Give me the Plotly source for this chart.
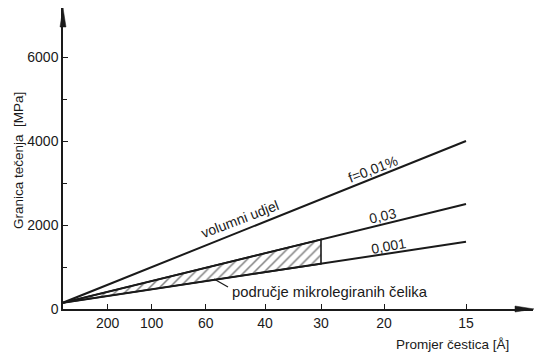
import numpy as np
import plotly.graph_objects as go

# ---- data ----
x_tick_labels = ["200", "100", "60", "40", "30", "20", "15"]
x_tick_pos = [44.7, 88.7, 142.7, 202.0, 258.0, 321.0, 403.0]   # axis units along the abscissa
y_ticks = [0, 2000, 4000, 6000]
y_minor = [1000, 3000, 5000]

series_names = ["f=0,01%", "0,03", "0,001"]
start_value = 150                       # MPa at the origin of the abscissa
end_values = [4000, 2500, 1600]         # MPa at particle size 15 Å
hatch_end_label = "30"                  # microalloyed steels region ends at 30 Å

INK = "#1a1a1a"
FONT = "Liberation Sans, Arial, sans-serif"

x0 = 0.0
x_end = x_tick_pos[x_tick_labels.index("15")]
x_hatch = x_tick_pos[x_tick_labels.index(hatch_end_label)]

fig = go.Figure()

# hatched region between 0,03 and 0,001 lines up to 30 Å
xs = np.array([x0, x_hatch])
upper = np.interp(xs, [x0, x_end], [start_value, end_values[1]])
lower = np.interp(xs, [x0, x_end], [start_value, end_values[2]])
poly_x = list(xs) + list(xs[::-1]) + [xs[0]]
poly_y = list(upper) + list(lower[::-1]) + [upper[0]]
fig.add_trace(go.Scatter(
    x=poly_x, y=poly_y, mode="lines", fill="toself",
    line=dict(color=INK, width=1.6),
    fillcolor="rgba(0,0,0,0)",
    fillpattern=dict(shape="/", size=7, solidity=0.22, fgcolor="#000000", bgcolor="white"),
    hoverinfo="skip", showlegend=False,
))

for name, ev in zip(series_names, end_values):
    fig.add_trace(go.Scatter(
        x=[x0, x_end], y=[start_value, ev], mode="lines",
        line=dict(color=INK, width=2), name=name, showlegend=False,
    ))

W, H = 535, 354
ml, mr, mt, mb = 63, 2, 8, 45
pw, ph = W - ml - mr, H - mt - mb
x_range = [0, 470]
y_range = [0, 7167]

fig.update_layout(
    width=W, height=H,
    margin=dict(l=ml, r=mr, t=mt, b=mb, autoexpand=False),
    paper_bgcolor="white", plot_bgcolor="white",
    font=dict(family=FONT, size=14, color=INK),
    showlegend=False,
    xaxis=dict(
        range=x_range, showgrid=False, zeroline=False, automargin=False,
        showline=True, linecolor=INK, linewidth=1.5,
        tickmode="array", tickvals=x_tick_pos, ticktext=x_tick_labels,
        ticks="inside", ticklen=5, tickwidth=1.2, tickcolor=INK,
        tickfont=dict(size=14, color=INK, family=FONT),
    ),
    yaxis=dict(
        range=y_range, showgrid=False, zeroline=False, automargin=False,
        showline=True, linecolor=INK, linewidth=1.5,
        tickmode="array", tickvals=y_ticks, ticktext=[str(v) for v in y_ticks],
        ticks="inside", ticklen=5, tickwidth=1.2, tickcolor=INK,
        tickfont=dict(size=14, color=INK, family=FONT),
        minor=dict(tickmode="array", tickvals=y_minor, ticks="inside",
                   ticklen=4, tickwidth=1.2, tickcolor=INK),
    ),
)

def px_to_paper(px, py):
    return (px - ml) / pw, (H - mb - py) / ph

# axis arrowheads
tx, ty = px_to_paper(63, 8)
_, by = px_to_paper(63, 27)
hw = 3.0 / pw
fig.add_shape(type="path", xref="paper", yref="paper",
              path=f"M {tx-hw} {by} L {tx} {ty} L {tx+hw} {by} Z",
              fillcolor=INK, line=dict(color=INK, width=0.5))
ax_tip, ay0 = px_to_paper(534, 309)
ax_base, _ = px_to_paper(515, 309)
hh = 3.0 / ph
fig.add_shape(type="path", xref="paper", yref="paper",
              path=f"M {ax_base} {ay0-hh} L {ax_tip} {ay0} L {ax_base} {ay0+hh} Z",
              fillcolor=INK, line=dict(color=INK, width=0.5))

def ann(text, px, py, angle=0, size=14, xanchor="center"):
    x, y = px_to_paper(px, py)
    fig.add_annotation(text=text, xref="paper", yref="paper", x=x, y=y,
                       showarrow=False, textangle=angle, xanchor=xanchor, yanchor="middle",
                       font=dict(size=size, color=INK, family=FONT))

# line labels
ann("volumni udjel", 240, 219, angle=-21, size=14)
ann("f=0,01%", 373, 169, angle=-21, size=14)
ann("0,03", 382, 216, angle=-13, size=14)
ann("0,001", 388, 246, angle=-10, size=14)
ann("područje mikrolegiranih čelika", 230, 292, angle=0, size=14.8, xanchor="left")

# leader line for the region label
lx0, ly0 = px_to_paper(214, 279)
lx1, ly1 = px_to_paper(228, 287)
fig.add_shape(type="line", xref="paper", yref="paper", x0=lx0, y0=ly0, x1=lx1, y1=ly1,
              line=dict(color=INK, width=1.2))

# axis titles
ann("Granica tečenja  [MPa]", 18, 161, angle=-90, size=13.5)
ann("Promjer čestica [Å]", 452, 345, size=13.5)

fig.write_html("out.html", config={"displayModeBar": False},
               post_script="document.body.style.margin='0';document.body.style.padding='0';document.body.style.overflow='hidden';")
